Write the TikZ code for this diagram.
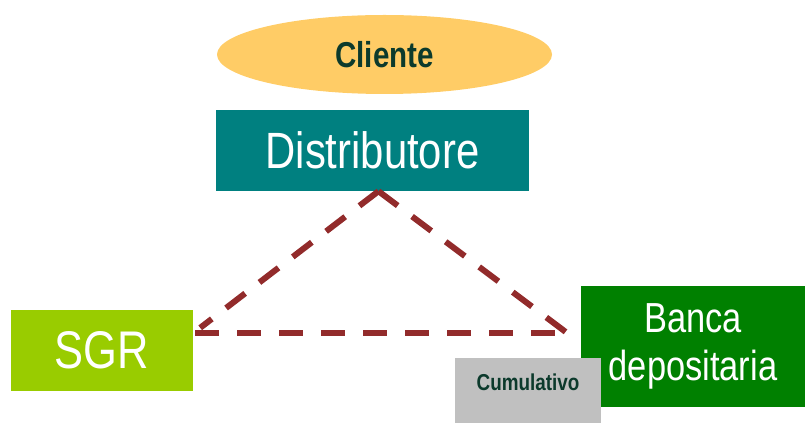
\documentclass[tikz,border=0pt]{standalone}
\usepackage{fontspec}
\setmainfont[FakeStretch=0.82]{Liberation Sans}
\usepackage{tikz}
\usetikzlibrary{shapes.geometric}
\definecolor{Sun}{HTML}{FFCC66}
\definecolor{Teal}{HTML}{008080}
\definecolor{Lime}{HTML}{99CC00}
\definecolor{Leaf}{HTML}{008000}
\definecolor{Silver}{HTML}{C0C0C0}
\definecolor{Ink}{HTML}{0C3A2C}
\definecolor{Wine}{HTML}{922B2B}

\begin{document}
\begin{tikzpicture}[x=1pt,y=1pt,
  box/.style={rectangle,inner sep=0pt,text=white},
  link/.style={Wine,line width=6pt,dash pattern=on 24pt off 18pt}]
  \useasboundingbox (0,0) rectangle (805,423);
  \node[ellipse,fill=Sun,minimum width=335,minimum height=79,inner sep=0pt,text=Ink,font=\fontsize{36}{40}\selectfont\bfseries] (cliente) at (384.5,368.5) {Cliente};
  \node[box,fill=Teal,minimum width=313,minimum height=81,font=\fontsize{51}{56}\selectfont] (distr) at (372.5,272.5) {Distributore};
  \node[box,fill=Lime,minimum width=182,minimum height=81,font=\fontsize{53}{58}\selectfont] (sgr) at (102,72.5) {SGR};
  \node[box,fill=Leaf,minimum width=224,minimum height=121,align=center,font=\fontsize{42}{48}\selectfont] (banca) at (693,76.5) {Banca\\depositaria};
  \node[box,fill=Silver,minimum width=146,minimum height=65,text=Ink,text height=13pt,text depth=13pt,font=\fontsize{23}{26}\selectfont\bfseries] (cumul) at (528,32.5) {Cumulativo};
  % dashed triangle between the three parties
  \draw[link] ([xshift=6pt]distr.south) -- ([shift={(7,-18)}]sgr.north east);
  \draw[link] ([xshift=6pt]distr.south) -- ([shift={(-14,-47)}]banca.north west);
  \draw[link] ([shift={(2,-23)}]sgr.north east) -- ([shift={(-26,-47)}]banca.north west);
\end{tikzpicture}
\end{document}
